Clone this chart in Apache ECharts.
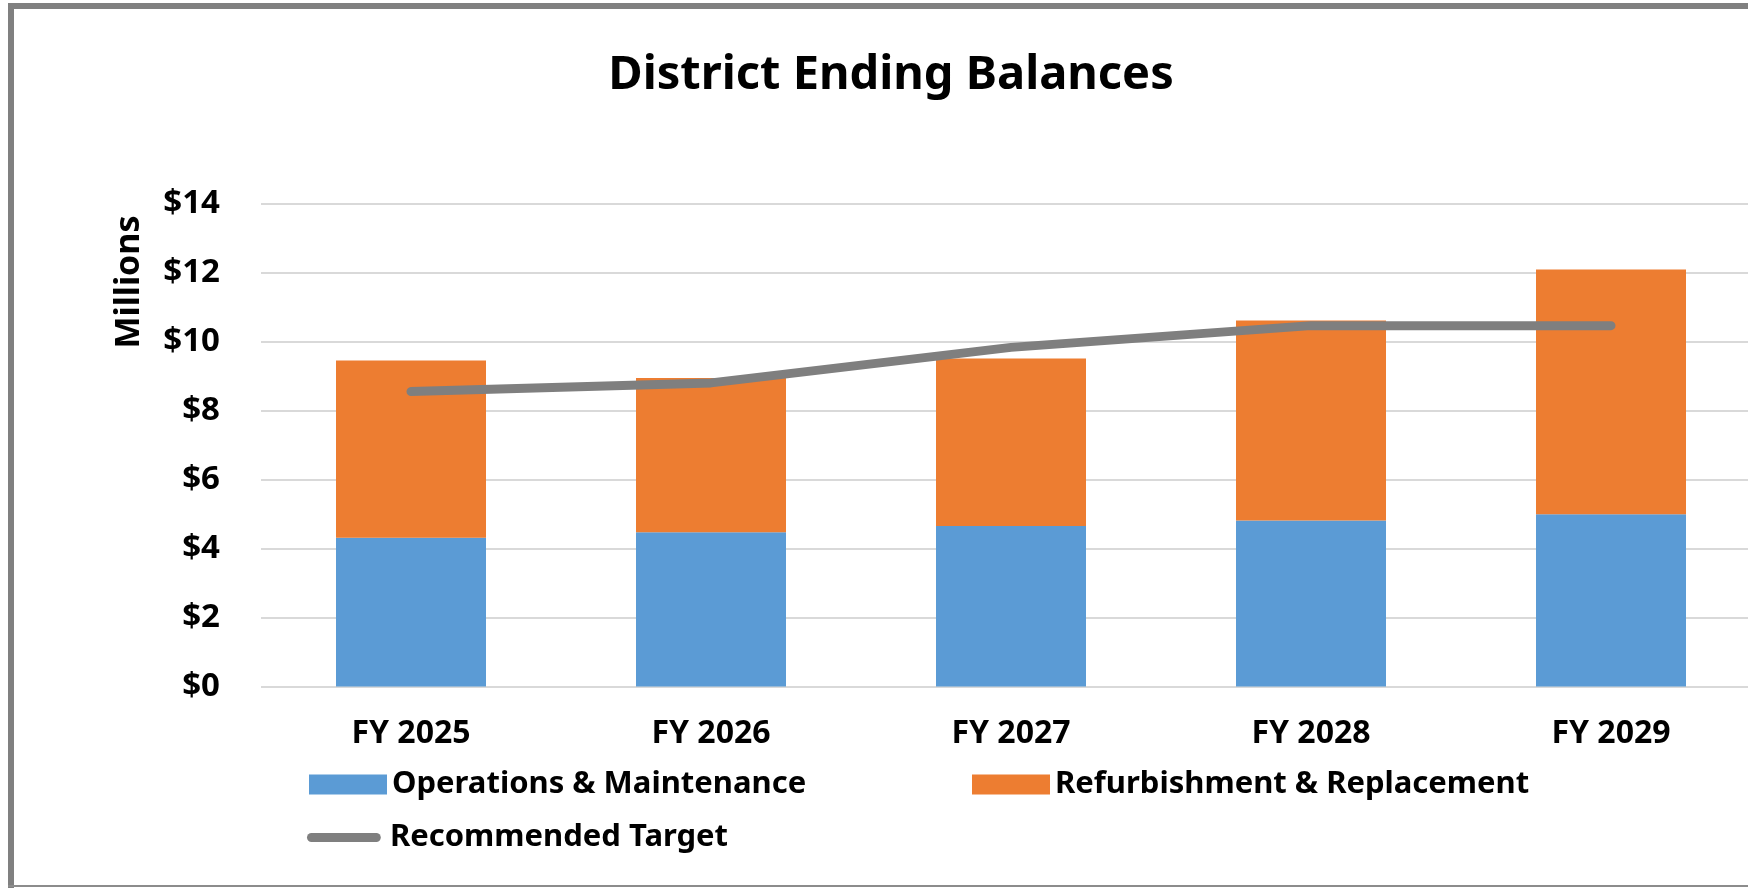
<!DOCTYPE html>
<html>
<head>
<meta charset="utf-8">
<script src="https://cdn.jsdelivr.net/npm/echarts@6/dist/echarts.min.js"></script>
<style>
html,body{margin:0;padding:0;background:#fff;}
#c{width:1748px;height:888px;}
</style>
</head>
<body>
<div id="c"></div>
<script>
const categories = ['FY 2025', 'FY 2026', 'FY 2027', 'FY 2028', 'FY 2029'];
const opsMaint = [4.31, 4.47, 4.65, 4.81, 4.99];
const refurbRepl = [5.14, 4.47, 4.86, 5.80, 7.10];
const target = [8.55, 8.80, 9.83, 10.46, 10.46];
const seriesNames = ['Operations & Maintenance', 'Refurbishment & Replacement', 'Recommended Target'];

const FONT = 'Noto Sans';
const chart = echarts.init(document.getElementById('c'));
const legendText = { fontFamily: FONT, fontWeight: 'bold', fontSize: 31, color: '#000' };

chart.setOption({
  animation: false,
  title: {
    text: 'District Ending Balances',
    left: 886, top: 47, textAlign: 'center',
    textStyle: { fontFamily: FONT, fontWeight: 'bold', fontSize: 47, color: '#000' }
  },
  graphic: [
    { type: 'rect', shape: { x: 8, y: 3, width: 6, height: 886 }, style: { fill: '#808080' } },
    { type: 'rect', shape: { x: 8, y: 3, width: 1760, height: 6 }, style: { fill: '#808080' } },
    { type: 'rect', shape: { x: 8, y: 885, width: 1760, height: 2 }, style: { fill: '#8c8c8c' } },
    { type: 'text', x: 129, y: 282, rotation: Math.PI / 2,
      style: { text: 'Millions', fontFamily: FONT, fontWeight: 'bold', fontSize: 34, fill: '#000',
        align: 'center', verticalAlign: 'middle' } }
  ],
  grid: { left: 261, width: 1500, top: 203.5, bottom: 201.5, containLabel: false, outerBoundsMode: 'none' },
  legend: [
    { data: [{ name: seriesNames[0], icon: 'rect' }], left: 309, top: 769, itemWidth: 78, itemHeight: 20, itemGap: 8, textStyle: legendText, padding: 0 },
    { data: [{ name: seriesNames[1], icon: 'rect' }], left: 972, top: 769, itemWidth: 78, itemHeight: 20, itemGap: 8, textStyle: legendText, padding: 0 },
    { data: [{ name: seriesNames[2], icon: 'path://M5,0 H77 A5,5 0 0 1 77,10 H5 A5,5 0 0 1 5,0 Z' }],
      left: 307, top: 822, itemWidth: 82, itemHeight: 9, itemGap: 6, textStyle: legendText, padding: 0,
      itemStyle: { color: '#7f7f7f', borderWidth: 0 }, lineStyle: { width: 0 } }
  ],
  xAxis: {
    type: 'category', data: categories,
    axisLine: { show: false }, axisTick: { show: false },
    axisLabel: { fontFamily: FONT, fontWeight: 'bold', fontSize: 32, color: '#000', margin: 31 }
  },
  yAxis: {
    type: 'value', min: 0, max: 14, interval: 2,
    axisLine: { show: false }, axisTick: { show: false },
    axisLabel: { fontFamily: FONT, fontWeight: 'bold', fontSize: 33, color: '#000', margin: 41,
      formatter: v => '$' + v },
    splitLine: { lineStyle: { color: '#d9d9d9', width: 2 } }
  },
  series: [
    { name: seriesNames[0], type: 'bar', stack: 'bal', data: opsMaint, barWidth: '50%',
      itemStyle: { color: '#5b9bd5' } },
    { name: seriesNames[1], type: 'bar', stack: 'bal', data: refurbRepl, barWidth: '50%',
      itemStyle: { color: '#ed7d31' } },
    { name: seriesNames[2], type: 'line', data: target, symbol: 'none', showSymbol: false,
      lineStyle: { color: '#7f7f7f', width: 9, cap: 'round', join: 'round' },
      itemStyle: { color: '#7f7f7f' }, z: 5 }
  ]
});
</script>
</body>
</html>
